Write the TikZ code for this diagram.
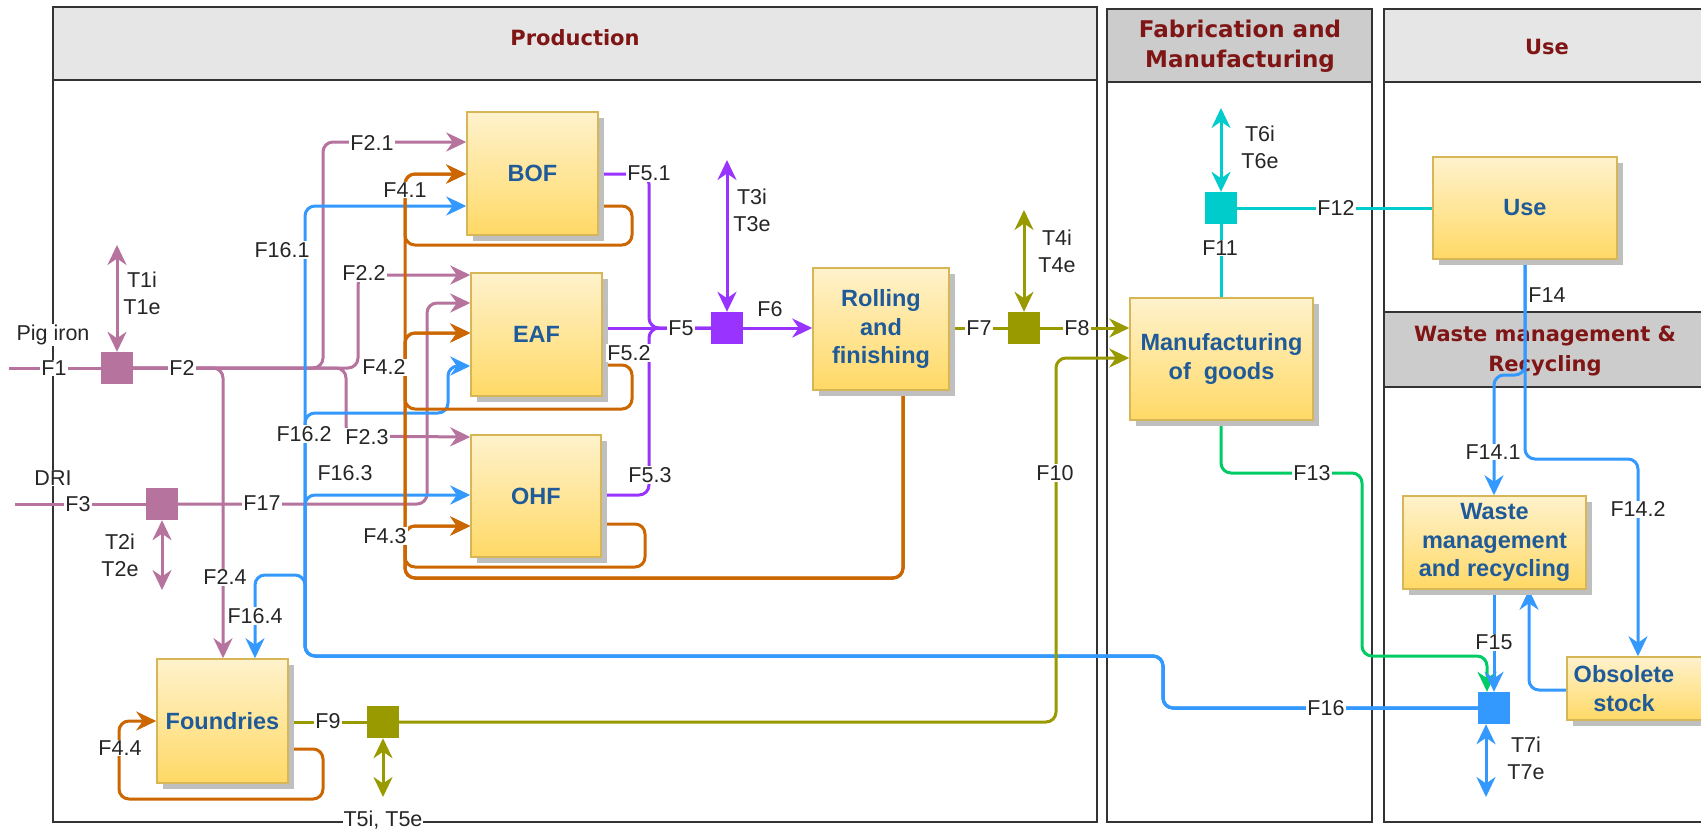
\documentclass[tikz,border=0pt]{standalone}
\usepackage{fontspec}
\setmainfont{Liberation Sans}
\newfontfamily\hdrfamily{DejaVu Sans}
\usetikzlibrary{arrows.meta,shadows}
\definecolor{cpink}{HTML}{B5739D}
\definecolor{corange}{HTML}{CC6600}
\definecolor{cblue}{HTML}{3399FF}
\definecolor{cpurple}{HTML}{9933FF}
\definecolor{colive}{HTML}{999900}
\definecolor{ccyan}{HTML}{00CCCC}
\definecolor{cgreen}{HTML}{00CC66}
\definecolor{hdrA}{HTML}{E6E6E6}
\definecolor{hdrB}{HTML}{CCCCCC}
\definecolor{hdrtext}{HTML}{7F1515}
\definecolor{boxtop}{HTML}{FFF2CC}
\definecolor{boxbot}{HTML}{FFD966}
\definecolor{boxline}{HTML}{D6B656}
\definecolor{boxtext}{HTML}{1F5A99}
\definecolor{laneline}{HTML}{333333}
\newcommand\lblfnt{\fontsize{21.5}{27}\selectfont}
\newcommand\boxfnt{\fontsize{23.5}{28.5}\selectfont\bfseries}
\newcommand\hdrfnt{\hdrfamily\fontsize{21}{30}\selectfont\bfseries}
\newcommand\hdrfntb{\hdrfamily\fontsize{23}{30}\selectfont\bfseries}
\begin{document}
\begin{tikzpicture}[x=1pt,y=-1pt,
  ln/.style={line width=3pt, rounded corners=10pt},
  arr/.style={-{Stealth[length=20pt,width=19pt,inset=6.5pt]}},
  darr/.style={{Stealth[length=20pt,width=19pt,inset=6.5pt]}-{Stealth[length=20pt,width=19pt,inset=6.5pt]}},
  pk/.style={ln, draw=cpink},
  orl/.style={ln, draw=corange},
  bl/.style={ln, draw=cblue},
  pu/.style={ln, draw=cpurple},
  olv/.style={ln, draw=colive},
  cy/.style={ln, draw=ccyan},
  grn/.style={ln, draw=cgreen},
  lane/.style={draw=laneline, line width=1.6pt},
  box/.style={draw=boxline, line width=1.5pt, top color=boxtop, bottom color=boxbot,
    text=boxtext, font=\boxfnt, align=center, inner sep=2pt,
    drop shadow={shadow xshift=6pt, shadow yshift=-6pt, fill=black!25, opacity=1}},
  jn/.style={rectangle, inner sep=0pt, minimum size=32pt},
  lbl/.style={fill=white, inner sep=1pt, font=\lblfnt, text=black!85, align=center},
  hdr/.style={font=\hdrfnt, text=hdrtext, align=center},
  boxtxt/.style={text=boxtext, font=\boxfnt, align=center, inner sep=0pt}
]
\useasboundingbox (0,0) rectangle (1701,836);
\fill[white] (0,0) rectangle (1701,836);
% lanes
\draw[lane, fill=hdrA] (53,7) rectangle (1097,80);
\draw[lane] (53,80) rectangle (1097,822);
\draw[lane, fill=hdrB] (1107,9) rectangle (1372,82);
\draw[lane] (1107,82) rectangle (1372,822);
\draw[lane, fill=hdrA] (1384,9) rectangle (1706,82);
\draw[lane] (1384,82) rectangle (1706,312);
\draw[lane, fill=hdrB] (1384,312) rectangle (1706,387);
\draw[lane] (1384,387) rectangle (1706,822);
\node[hdr] (hProd) at (575,38) {Production};
\node[hdr, font=\hdrfntb] (hFab) at (1240,46) {Fabrication and\\Manufacturing};
\node[hdr] (hUse) at (1547,47) {Use};
\node[hdr] (hWst) at (1545,351) {Waste management \&\\Recycling};
% boxes (positions)
\node[box, minimum width=131pt, minimum height=123pt] (BOF) at (532.5,173.5) {BOF};
\node[box, minimum width=131pt, minimum height=123pt] (EAF) at (536.5,334.5) {EAF};
\node[box, minimum width=130pt, minimum height=122pt] (OHF) at (536,496) {OHF};
\node[box, minimum width=136pt, minimum height=122pt] (Rol) at (881,329) {Rolling\\and\\finishing};
\node[box, minimum width=183pt, minimum height=122pt] (Man) at (1221.5,359) {Manufacturing\\of\ \ goods};
\node[box, minimum width=184pt, minimum height=102pt] (Use) at (1525,208) {Use};
\node[box, minimum width=183pt, minimum height=93pt] (Wst) at (1494.5,542.5) {Waste\\management\\and recycling};
\node[box, minimum width=143pt, minimum height=63pt] (Obs) at (1638.5,688.5) {};
\node[box, minimum width=131pt, minimum height=124pt] (Fnd) at (222.5,721) {Foundries};
% junctions
\node[jn, fill=cpink] (J1) at (117,368) {};
\node[jn, fill=cpink] (J2) at (162,504) {};
\node[jn, fill=cpurple] (J3) at (727,328) {};
\node[jn, fill=colive] (J4) at (1024,328) {};
\node[jn, fill=colive] (J5) at (383,722) {};
\node[jn, fill=ccyan] (J6) at (1221,208) {};
\node[jn, fill=cblue] (J7) at (1494,708) {};
\coordinate (F1s) at (9,368);
\coordinate (F3s) at (15,504);
% pink
\draw[pk] (F1s) -- (J1.west);
\draw[pk,darr] (J1.north) -- (117,245);
\draw[pk,arr] (J1.east) -- (223,368) -- (223,0 |- Fnd.north);
\draw[pk,arr] (J1.east) -- (323,368) -- (323,142) -- (BOF.west |- 0,142);
\draw[pk,arr] (J1.east) -- (358,368) -- (358,275) -- (EAF.west |- 0,275);
\draw[pk,arr] (J1.east) -- (346,368) -- (346,436) -- (OHF.west |- 0,437);
\draw[pk] (F3s) -- (J2.west);
\draw[pk,darr] (J2.south) -- (162,590);
\draw[pk,arr] (J2.east) -- (427,504) -- (427,303) -- (EAF.west |- 0,303);
% blue F16
\draw[bl,arr] (J7.west) -- (1163,708) -- (1163,656) -- (305,656) -- (305,206) -- (BOF.west |- 0,206);
\draw[bl,arr] (J7.west) -- (1163,708) -- (1163,656) -- (305,656) -- (305,413) -- (448,413) -- (448,366) -- (EAF.west |- 0,366);
\draw[bl,arr] (J7.west) -- (1163,708) -- (1163,656) -- (305,656) -- (305,495) -- (OHF.west |- 0,495);
\draw[bl,arr] (J7.west) -- (1163,708) -- (1163,656) -- (305,656) -- (305,575) -- (255,575) -- (255,0 |- Fnd.north);
% orange
\draw[orl,arr] (Rol.south -| 903,0) -- (903,578) -- (405,578) -- (405,174) -- (BOF.west |- 0,174);
\draw[orl,arr] (Rol.south -| 903,0) -- (903,578) -- (405,578) -- (405,333) -- (EAF.west |- 0,333);
\draw[orl,arr] (Rol.south -| 903,0) -- (903,578) -- (405,578) -- (405,526) -- (OHF.west |- 0,526);
\draw[orl,arr] (BOF.east |- 0,206) -- (632,206) -- (632,245) -- (405,245) -- (405,174) -- (BOF.west |- 0,174);
\draw[orl,arr] (EAF.east |- 0,365) -- (632,365) -- (632,409) -- (405,409) -- (405,333) -- (EAF.west |- 0,333);
\draw[orl,arr] (OHF.east |- 0,524) -- (645,524) -- (645,567) -- (405,567) -- (405,526) -- (OHF.west |- 0,526);
\draw[orl,arr] (Fnd.east |- 0,749) -- (323,749) -- (323,799) -- (119,799) -- (119,721) -- (Fnd.west |- 0,721);
% purple
\draw[pu] (BOF.east |- 0,174) -- (649,174) -- (649,328) -- (J3.west);
\draw[pu] (EAF.east |- 0,328) -- (J3.west);
\draw[pu] (OHF.east |- 0,495) -- (649,495) -- (649,328) -- (J3.west);
\draw[pu,darr] (J3.north) -- (727,160);
\draw[pu,arr] (J3.east) -- (Rol.west |- J3);
% olive
\draw[olv] (Rol.east |- J4) -- (J4.west);
\draw[olv,darr] (J4.north) -- (1024,210);
\draw[olv,arr] (J4.east) -- (Man.west |- J4);
\draw[olv] (Fnd.east |- J5) -- (J5.west);
\draw[olv,darr] (J5.south) -- (383,797);
\draw[olv,arr] (J5.east) -- (1056,722) -- (1056,358) -- (Man.west |- 0,358);
% cyan
\draw[cy] (Man.north -| J6) -- (J6.south);
\draw[cy,darr] (J6.north) -- (1221,108);
\draw[cy] (J6.east) -- (Use.west |- J6);
% green
\draw[grn,arr] (Man.south -| J6) -- (1221,473) -- (1362,473) -- (1362,656) -- (1487,656) -- (1487,0 |- J7.north);
% blue right
\draw[bl,arr] (Use.south) -- (1525,459) -- (1638,459) -- (1638,0 |- Obs.north);
\draw[bl,arr] (Use.south) -- (1525,375) -- (1494,375) -- (1494,0 |- Wst.north);
\draw[bl,arr] (Wst.south -| J7) -- (J7.north);
\draw[bl,arr] (Obs.west |- 0,690) -- (1529,690) -- (1529,0 |- Wst.south);
\draw[bl,darr] (J7.south -| 1486,0) -- (1486,797);
% redraw boxes and junctions on top
\node[box, minimum width=131pt, minimum height=123pt] (BOFt) at (BOF) {BOF};
\node[box, minimum width=131pt, minimum height=123pt] (EAFt) at (EAF) {EAF};
\node[box, minimum width=130pt, minimum height=122pt] (OHFt) at (OHF) {OHF};
\node[box, minimum width=136pt, minimum height=122pt] (Rolt) at (Rol) {Rolling\\and\\finishing};
\node[box, minimum width=183pt, minimum height=122pt] (Mant) at (Man) {Manufacturing\\of\ \ goods};
\node[box, minimum width=184pt, minimum height=102pt] (Uset) at (Use) {Use};
\node[box, minimum width=183pt, minimum height=93pt] (Wstt) at (Wst) {Waste\\management\\and recycling};
\node[box, minimum width=143pt, minimum height=63pt] (Obst) at (Obs) {};
\node[boxtxt] (ObsTxt) at (1624,688.5) {Obsolete\\stock};
\node[box, minimum width=131pt, minimum height=124pt] (Fndt) at (Fnd) {Foundries};
\node[jn, fill=cpink] (J1t) at (J1) {};
\node[jn, fill=cpink] (J2t) at (J2) {};
\node[jn, fill=cpurple] (J3t) at (J3) {};
\node[jn, fill=colive] (J4t) at (J4) {};
\node[jn, fill=colive] (J5t) at (J5) {};
\node[jn, fill=ccyan] (J6t) at (J6) {};
\node[jn, fill=cblue] (J7t) at (J7) {};
% labels
\node[lbl] (lPig) at (53,335) {Pig iron};
\node[lbl] (lDRI) at (53,478) {DRI};
\node[lbl] (lF1) at (54,368) {F1};
\node[lbl] (lF2) at (182,368) {F2};
\node[lbl] (lF21) at (372,143) {F2.1};
\node[lbl] (lF22) at (364,273) {F2.2};
\node[lbl] (lF23) at (367,437) {F2.3};
\node[lbl] (lF24) at (225,577) {F2.4};
\node[lbl] (lF3) at (78,504) {F3};
\node[lbl] (lF17) at (262,503) {F17};
\node[lbl] (lF161) at (282,250) {F16.1};
\node[lbl] (lF162) at (304,434) {F16.2};
\node[lbl] (lF163) at (345,473) {F16.3};
\node[lbl] (lF164) at (255,616) {F16.4};
\node[lbl] (lF16) at (1326,708) {F16};
\node[lbl] (lF41) at (405,190) {F4.1};
\node[lbl] (lF42) at (384,367) {F4.2};
\node[lbl] (lF43) at (385,536) {F4.3};
\node[lbl] (lF44) at (120,748) {F4.4};
\node[lbl] (lF51) at (649,173) {F5.1};
\node[lbl] (lF52) at (629,353) {F5.2};
\node[lbl] (lF53) at (650,475) {F5.3};
\node[lbl] (lF5) at (681,328) {F5};
\node[lbl] (lF6) at (770,309) {F6};
\node[lbl] (lF7) at (979,328) {F7};
\node[lbl] (lF8) at (1077,328) {F8};
\node[lbl] (lF9) at (328,721) {F9};
\node[lbl] (lF10) at (1055,473) {F10};
\node[lbl] (lF11) at (1220,248) {F11};
\node[lbl] (lF12) at (1336,208) {F12};
\node[lbl] (lF13) at (1312,473) {F13};
\node[lbl, fill=none] (lF14) at (1547,295) {F14};
\node[lbl] (lF141) at (1493,452) {F14.1};
\node[lbl] (lF142) at (1638,509) {F14.2};
\node[lbl] (lF15) at (1494,642) {F15};
\node[lbl, fill=none] (lT1) at (142,293) {T1i\\T1e};
\node[lbl, fill=none] (lT2) at (120,555) {T2i\\T2e};
\node[lbl, fill=none] (lT3) at (752,210) {T3i\\T3e};
\node[lbl, fill=none] (lT4) at (1057,251) {T4i\\T4e};
\node[lbl] (lT5) at (383,820) {T5i, T5e};
\node[lbl, fill=none] (lT6) at (1260,147) {T6i\\T6e};
\node[lbl, fill=none] (lT7) at (1526,758) {T7i\\T7e};
\end{tikzpicture}
\end{document}
